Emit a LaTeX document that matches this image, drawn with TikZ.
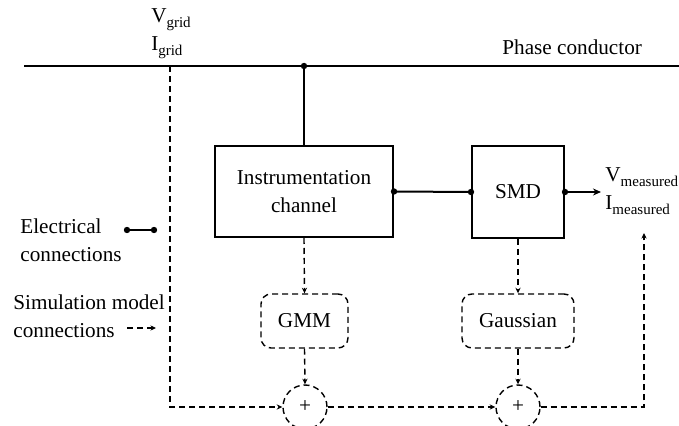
\documentclass[tikz,border=0pt]{standalone}
\usepackage{fontspec}
\setmainfont{Liberation Serif}
\usetikzlibrary{arrows.meta}
\newcommand\lowtext[1]{\raisebox{-2.4pt}{\fontsize{7.5}{9}\selectfont #1}}
\tikzset{
    % solid lines for the electrical side, dashed ones for the simulation model
    wire/.style={line width=1pt}, sim/.style={line width=0.7pt,dash pattern=on 3pt off 2pt,-{Stealth[length=2.8pt,width=2.6pt]}},
    solid block/.style={draw,line width=1pt,align=center,inner sep=2pt},
    model block/.style={draw,line width=0.7pt,dash pattern=on 3pt off 2pt,rounded corners=5pt,minimum height=27pt},
    sum node/.style={circle,draw,line width=0.7pt,dash pattern=on 3pt off 2pt,minimum size=22pt,inner sep=0pt}
    }
\begin{document}
\begin{tikzpicture}[x=0.5pt,y=-0.5pt,font=\fontsize{10.6}{14}\selectfont]
    \useasboundingbox (0,0) rectangle (679,426);
    % Phase conductor
    \coordinate (lineL) at (24,66);
    \coordinate (lineR) at (679,66);
    \draw[wire] (lineL) -- (lineR);
    \node[anchor=east] (phase) at (649,47) {Phase conductor};
    \node[align=left,inner sep=0pt] (grid) at (171,34) {V\lowtext{grid}\\I\lowtext{grid}};
    % Blocks
    \node[solid block,minimum width=89pt,minimum height=45.5pt] (inst) at (304,191.5) {Instrumentation\\channel};
    \node[solid block,minimum width=46pt,minimum height=46pt] (smd) at (518,192) {SMD};
    \node[model block,minimum width=43.5pt] (gmm) at (304.5,321) {GMM};
    \node[model block,minimum width=56pt] (gauss) at (518,321) {Gaussian};
    \node[sum node] (sum1) at (305,407) {+};
    \node[sum node] (sum2) at (518,407) {+};
    \node[align=left,anchor=west,inner sep=0pt] (meas) at (605,191) {V\lowtext{measured}\\I\lowtext{measured}};
    % Electrical connections
    \coordinate (tap) at (inst.north |- lineL);
    \draw[wire] (tap) -- (inst.north);
    \draw[wire] (inst.east) -- (smd.west);
    \draw[wire,-{Stealth[length=4pt,width=3.5pt]}] (smd.east) -- ([xshift=-2pt]meas.west |- smd.east);
    \foreach \p in {tap,inst.east,smd.west,smd.east} \fill (\p) circle (1.6pt);
    % Simulation model connections
    \coordinate (gridtap) at (170,66);
    \coordinate (gridcorner) at (gridtap |- sum1);
    \coordinate (outcorner) at (644,407);
    \coordinate (outend) at (644,233);
    \draw[sim] (gridtap) -- (gridcorner) -- (sum1.west);
    \draw[sim] (inst.south) -- (gmm.north);
    \draw[sim] (gmm.south) -- (sum1.north);
    \draw[sim] (smd.south) -- (gauss.north);
    \draw[sim] (gauss.south) -- (sum2.north);
    \draw[sim] (sum1.east) -- (sum2.west);
    \draw[sim] (sum2.east) -- (outcorner) -- (outend);
    % Legend
    \node[anchor=west,align=left,inner sep=0pt] (electext) at (20,240) {Electrical\\connections};
    \coordinate (elecA) at (127,230);
    \coordinate (elecB) at (154,230);
    \draw[wire] (elecA) -- (elecB);
    \fill (elecA) circle (1.6pt) (elecB) circle (1.6pt);
    \node[anchor=west,align=left,inner sep=0pt] (simtext) at (13,316) {Simulation model\\connections};
    \coordinate (simA) at (127,328);
    \coordinate (simB) at (156,328);
    \draw[sim] (simA) -- (simB);
\end{tikzpicture}
\end{document}
